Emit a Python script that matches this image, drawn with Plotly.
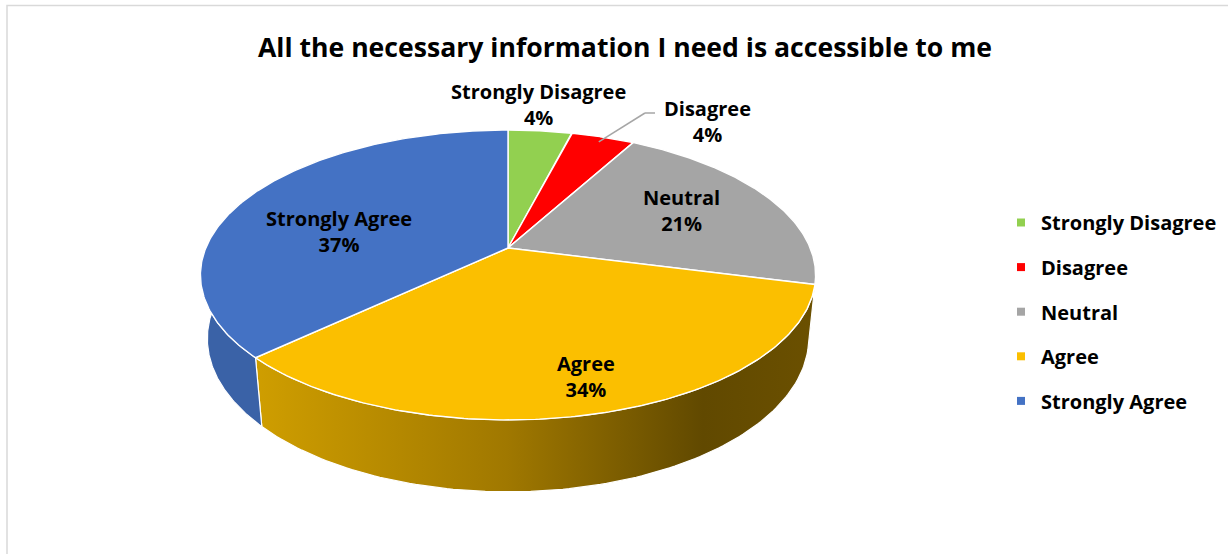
import numpy as np
import plotly.graph_objects as go

# ---------------- data ----------------
categories = ["Strongly Disagree", "Disagree", "Neutral", "Agree", "Strongly Agree"]
values = [4, 4, 21, 34, 37]
top_colors = ["#92D050", "#FF0000", "#A5A5A5", "#FBBF00", "#4472C4"]
side_colors = ["#6E9C3C", "#BF0000", "#6F6F6F", "#B08600", "#3A62A7"]
title = "All the necessary information I need is accessible to me"

# ---------------- 3D projection (pixel frame) ----------------
CX, CY = 508.0, 248.0
F, D = 1468.0, 4.78
HSCALE = 0.984
ALPHA = np.radians(27.1)
S, C = np.sin(ALPHA), np.cos(ALPHA)
H = 0.234


def proj(X, Y, Z):
    X, Y, Z = np.asarray(X, float), np.asarray(Y, float), np.asarray(Z, float)
    depth = D + Y * C - Z * S
    u = HSCALE * F * X / depth
    v = F * (Y * S + Z * C) / depth
    return CX + u, CY - v


total = float(sum(values))
bounds = np.concatenate([[0], np.cumsum(values)]) / total * 2 * np.pi

fig = go.Figure()

# side walls (front part only)
VIS0, VIS1 = np.radians(78), np.radians(282)
for i, cat in enumerate(categories):
    a0, a1 = max(bounds[i], VIS0), min(bounds[i + 1], VIS1)
    if a1 <= a0:
        continue
    th = np.linspace(a0, a1, 120)
    xt, yt = proj(np.sin(th), np.cos(th), np.zeros_like(th))
    xb, yb = proj(np.sin(th[::-1]), np.cos(th[::-1]), -H * np.ones_like(th))
    xs = np.concatenate([xt, xb, xt[:1]])
    ys = np.concatenate([yt, yb, yt[:1]])
    kw = dict(fillcolor=side_colors[i])
    if cat == "Agree":
        kw = dict(fillgradient=dict(type="horizontal",
                                    colorscale=[[0, "#CF9E00"], [0.45, "#A07800"],
                                                [0.8, "#614900"], [1, "#6B5000"]]))
    fig.add_trace(go.Scatter(x=xs, y=ys, mode="lines", fill="toself",
                             line=dict(color="white", width=1.2),
                             showlegend=False, hoverinfo="skip", **kw))

# top faces
for i, cat in enumerate(categories):
    th = np.linspace(bounds[i], bounds[i + 1], 200)
    xa, ya = proj(np.sin(th), np.cos(th), np.zeros_like(th))
    x0, y0 = proj(0, 0, 0)
    xs = np.concatenate([[x0], xa, [x0]])
    ys = np.concatenate([[y0], ya, [y0]])
    fig.add_trace(go.Scatter(x=xs, y=ys, mode="lines", fill="toself",
                             fillcolor=top_colors[i],
                             line=dict(color="white", width=1.4),
                             showlegend=False, name=cat,
                             text=f"{cat}: {values[i]}%", hoverinfo="text"))

# legend entries
for i, cat in enumerate(categories):
    fig.add_trace(go.Scatter(x=[None], y=[None], mode="markers", name=cat,
                             legendgroup=cat,
                             marker=dict(symbol="square", size=8, color=top_colors[i])))

FONT = "Open Sans"
lab_font = dict(family=FONT, size=20, color="black", weight="bold")
label_pos = {
    "Strongly Disagree": (538, 104),
    "Disagree": (707, 121),
    "Neutral": (681, 210),
    "Agree": (586, 376),
    "Strongly Agree": (339, 231),
}
annotations = []
for cat, val in zip(categories, values):
    lx, ly = label_pos[cat]
    annotations.append(dict(x=lx, y=ly, xref="x", yref="y", text=f"{cat}<br>{val}%",
                            showarrow=False, font=lab_font, align="center"))
annotations.append(dict(x=625, y=47, xref="x", yref="y", text=title, showarrow=False,
                        font=dict(family=FONT, size=26.6, color="black", weight="bold")))

# leader line for Disagree
mid = (bounds[1] + bounds[2]) / 2
sx, sy = proj(0.95 * np.sin(mid), 0.95 * np.cos(mid), 0)
shapes = [
    dict(type="line", xref="x", yref="y", x0=float(sx), y0=float(sy), x1=645, y1=113,
         line=dict(color="#A6A6A6", width=1.5)),
    dict(type="line", xref="x", yref="y", x0=645, y0=113, x1=655, y1=113,
         line=dict(color="#A6A6A6", width=1.5)),
    dict(type="rect", xref="x", yref="y", x0=7, y0=5.5, x1=1240, y1=570,
         line=dict(color="#D9D9D9", width=1.5), layer="below"),
]

fig.update_layout(
    width=1228, height=554,
    margin=dict(l=0, r=0, t=0, b=0),
    paper_bgcolor="white", plot_bgcolor="white",
    xaxis=dict(range=[0, 1228], visible=False, fixedrange=True),
    yaxis=dict(range=[554, 0], visible=False, fixedrange=True),
    annotations=annotations, shapes=shapes,
    showlegend=True,
    legend=dict(x=(1001) / 1228, y=1 - 203 / 554, xanchor="left", yanchor="top",
                font=dict(family=FONT, size=20, color="black", weight="bold"),
                tracegroupgap=15.6, bgcolor="rgba(0,0,0,0)", itemwidth=30),
)

fig.write_html("out.html")
